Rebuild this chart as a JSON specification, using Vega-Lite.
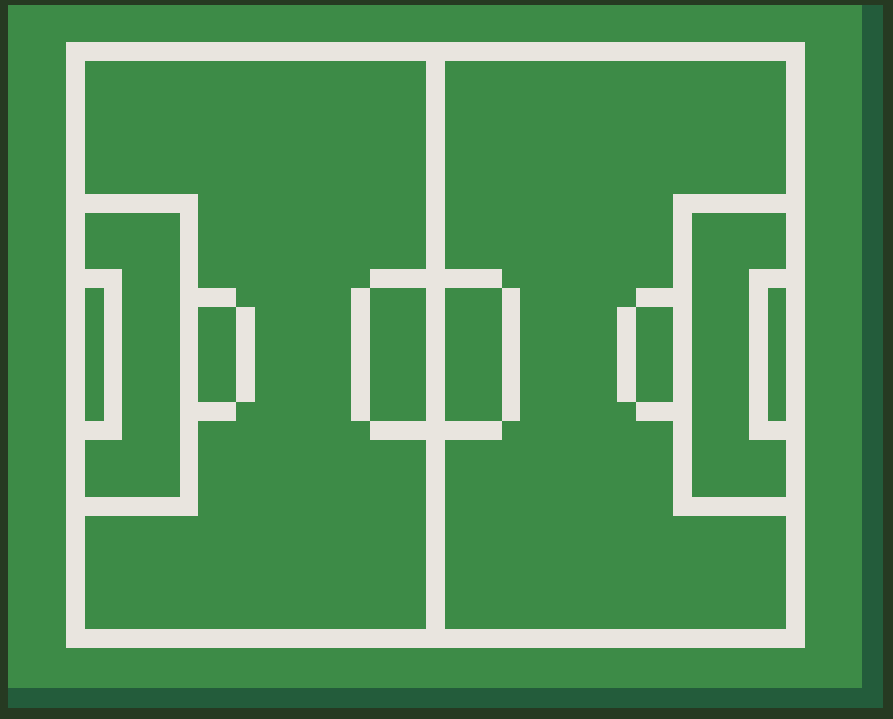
{
  "$schema": "https://vega.github.io/schema/vega-lite/v6.json",
  "autosize": {"type": "fit", "contains": "padding"},
  "width": 893,
  "height": 719,
  "padding": 0,
  "background": "#263a22",
  "view": {"stroke": null},
  "data": {
    "values": [
      {"part": "shadow", "x": 8, "x2": 883, "y": 5, "y2": 708},
      {"part": "grass", "x": 8, "x2": 862, "y": 5, "y2": 688},
      {"part": "line", "x": 66, "x2": 805, "y": 42, "y2": 648},
      {"part": "grass", "x": 85, "x2": 786, "y": 61, "y2": 629},
      {"part": "line", "x": 426, "x2": 445, "y": 42, "y2": 648},
      {"part": "line", "x": 370, "x2": 502, "y": 269, "y2": 288},
      {"part": "line", "x": 370, "x2": 502, "y": 421, "y2": 440},
      {"part": "line", "x": 351, "x2": 370, "y": 288, "y2": 421},
      {"part": "line", "x": 502, "x2": 520, "y": 288, "y2": 421},
      {"part": "line", "x": 66, "x2": 198, "y": 194, "y2": 213},
      {"part": "line", "x": 180, "x2": 198, "y": 194, "y2": 516},
      {"part": "line", "x": 66, "x2": 198, "y": 497, "y2": 516},
      {"part": "line", "x": 85, "x2": 122, "y": 269, "y2": 288},
      {"part": "line", "x": 104, "x2": 122, "y": 269, "y2": 440},
      {"part": "line", "x": 85, "x2": 122, "y": 421, "y2": 440},
      {"part": "line", "x": 198, "x2": 236, "y": 288, "y2": 307},
      {"part": "line", "x": 236, "x2": 255, "y": 307, "y2": 402},
      {"part": "line", "x": 198, "x2": 236, "y": 402, "y2": 421},
      {"part": "line", "x": 673, "x2": 786, "y": 194, "y2": 213},
      {"part": "line", "x": 673, "x2": 692, "y": 194, "y2": 516},
      {"part": "line", "x": 673, "x2": 786, "y": 497, "y2": 516},
      {"part": "line", "x": 749, "x2": 786, "y": 269, "y2": 288},
      {"part": "line", "x": 749, "x2": 768, "y": 269, "y2": 440},
      {"part": "line", "x": 749, "x2": 786, "y": 421, "y2": 440},
      {"part": "line", "x": 636, "x2": 673, "y": 288, "y2": 307},
      {"part": "line", "x": 617, "x2": 636, "y": 307, "y2": 402},
      {"part": "line", "x": 636, "x2": 673, "y": 402, "y2": 421}
    ]
  },
  "mark": {"type": "rect"},
  "encoding": {
    "x": {"field": "x", "type": "quantitative", "scale": {"domain": [0, 893], "nice": false, "zero": false}, "axis": null},
    "x2": {"field": "x2"},
    "y": {"field": "y", "type": "quantitative", "scale": {"domain": [0, 719], "reverse": true, "nice": false, "zero": false}, "axis": null},
    "y2": {"field": "y2"},
    "color": {
      "field": "part",
      "type": "nominal",
      "scale": {"domain": ["shadow", "grass", "line"], "range": ["#235c3b", "#3d8b47", "#e9e5df"]},
      "legend": null
    }
  }
}
